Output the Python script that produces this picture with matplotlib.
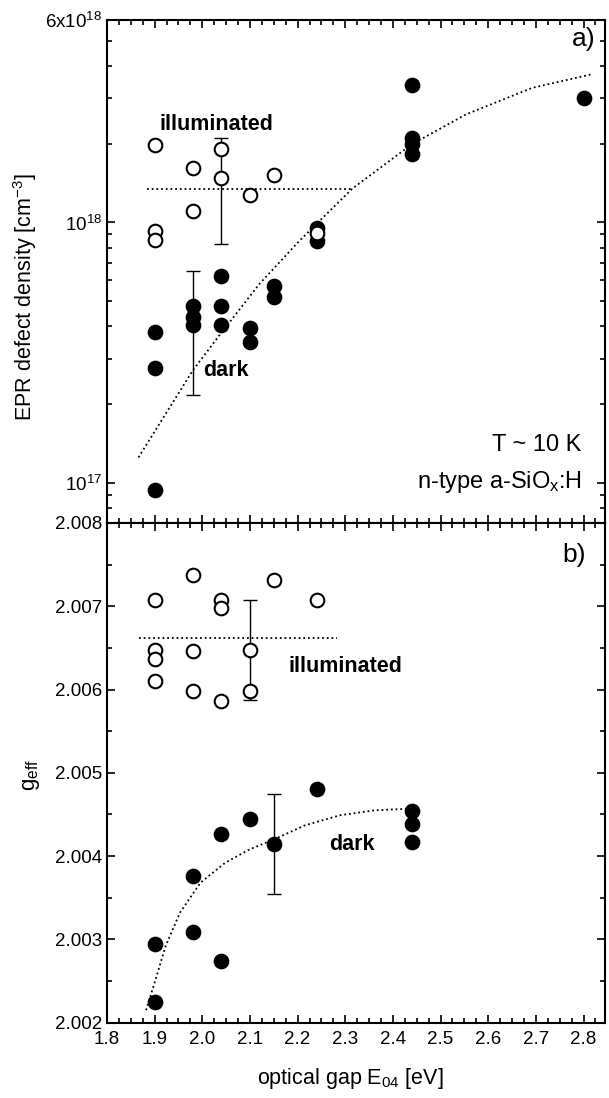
import numpy as np
import matplotlib
matplotlib.use('Agg')
import matplotlib.pyplot as plt
from matplotlib.ticker import LogLocator, NullFormatter, MultipleLocator

plt.rcParams['font.family'] = ['Liberation Sans', 'DejaVu Sans']
plt.rcParams['mathtext.fontset'] = 'custom'
plt.rcParams['mathtext.rm'] = 'Liberation Sans'
plt.rcParams['mathtext.it'] = 'Liberation Sans:italic'
plt.rcParams['mathtext.bf'] = 'Liberation Sans:bold'

# ---- a) EPR defect density vs optical gap
illumX = [1.90, 1.90, 1.90, 1.98, 1.98, 2.04, 2.04, 2.10, 2.15, 2.24]
illumN = [1.99e18, 0.93e18, 0.86e18, 1.62e18, 1.11e18, 1.91e18, 1.48e18,
          1.27e18, 1.52e18, 0.91e18]
darkX = [1.90, 1.90, 1.90, 1.98, 1.98, 1.98, 2.04, 2.04, 2.04, 2.10, 2.10,
         2.15, 2.15, 2.24, 2.24, 2.44, 2.44, 2.44, 2.44, 2.80]
darkN = [3.79e17, 2.76e17, 0.94e17, 4.76e17, 4.32e17, 4.02e17, 6.21e17,
         4.76e17, 4.05e17, 3.94e17, 3.47e17, 5.69e17, 5.16e17, 0.955e18,
         0.85e18, 3.39e18, 2.12e18, 2.0e18, 1.84e18, 3.01e18]

illumMeanN = 1.34e18
illumMeanSpan = [1.883, 2.315]
illumErrN = [2.04, 1.48e18, 0.83e18, 2.12e18]     # x, centre, low, high
darkErrN = [1.98, 4.32e17, 2.18e17, 6.49e17]

fitXa = [1.866, 1.98, 2.04, 2.12, 2.204, 2.315, 2.44, 2.553, 2.692, 2.817]
fitNa = [1.25e17, 2.70e17, 3.77e17, 5.81e17, 8.51e17, 1.35e18, 2.0e18,
         2.60e18, 3.29e18, 3.71e18]

# ---- b) effective g value vs optical gap
illumG_X = [1.90, 1.90, 1.90, 1.90, 1.98, 1.98, 1.98, 2.04, 2.04, 2.04,
            2.10, 2.10, 2.15, 2.24]
illumG = [2.00707, 2.00647, 2.00637, 2.00610, 2.00738, 2.00646, 2.00598,
          2.00708, 2.00698, 2.00586, 2.00648, 2.00598, 2.00731, 2.00707]
darkG_X = [1.90, 1.90, 1.98, 1.98, 2.04, 2.04, 2.10, 2.15, 2.24,
           2.44, 2.44, 2.44]
darkG = [2.00295, 2.00225, 2.00376, 2.00309, 2.00427, 2.00274, 2.00444,
         2.00414, 2.00481, 2.00454, 2.00438, 2.00417]

illumMeanG = 2.00662
illumMeanGSpan = [1.867, 2.282]
illumErrG = [2.10, 2.00648, 2.00588, 2.00708]
darkErrG = [2.15, 2.00414, 2.00355, 2.00474]

fitXb = [1.882, 1.9015, 1.923, 1.953, 1.996, 2.048, 2.099, 2.150, 2.2156,
         2.2886, 2.3617, 2.4384]
fitGb = [2.00215, 2.00251, 2.00292, 2.00332, 2.00368, 2.00392, 2.00408,
         2.00420, 2.00437, 2.00449, 2.00455, 2.00457]

xTicks = [1.8, 1.9, 2.0, 2.1, 2.2, 2.3, 2.4, 2.5, 2.6, 2.7, 2.8]
xTickLabels = ['1.8', '1.9', '2.0', '2.1', '2.2', '2.3', '2.4', '2.5', '2.6', '2.7', '2.8']
gTicks = [2.002, 2.003, 2.004, 2.005, 2.006, 2.007, 2.008]
gTickLabels = ['2.002', '2.003', '2.004', '2.005', '2.006', '2.007', '2.008']
nTicks = [1e17, 1e18, 6e18]
nTickLabels = ['10$^{17}$', '10$^{18}$', '6x10$^{18}$']

MS = 9.8
MEW = 1.5
DOTS = (0, (1, 1.6))


def styleAxes(ax):
    for sp in ax.spines.values():
        sp.set_linewidth(1.5)
    ax.tick_params(which='both', direction='in', top=True, right=True,
                   labelsize=13.5, width=1.2)
    ax.tick_params(which='major', length=6)
    ax.tick_params(which='minor', length=3.5)
    ax.set_xlim(1.8, 2.845)
    ax.set_xticks(xTicks)
    ax.xaxis.set_minor_locator(MultipleLocator(0.025))


def drawErr(ax, err):
    x, c, lo, hi = err
    ax.errorbar([x], [c], yerr=[[c - lo], [hi - c]], fmt='none', ecolor='black',
                elinewidth=1.0, capsize=5, capthick=1.0, zorder=2)


fig = plt.figure(figsize=(6.09, 10.98), dpi=100)
axA = fig.add_axes([0.1757, 0.5237, 0.8177, 0.4581])
axB = fig.add_axes([0.1757, 0.0686, 0.8177, 0.4551])

# panel a
axA.set_yscale('log')
styleAxes(axA)
axA.set_ylim(7.0e16, 6e18)
axA.yaxis.set_major_locator(plt.FixedLocator(nTicks))
axA.set_yticklabels(nTickLabels)
axA.yaxis.set_minor_locator(LogLocator(base=10, subs=np.arange(2, 10)))
axA.yaxis.set_minor_formatter(NullFormatter())
axA.set_xticklabels([])

axA.plot(fitXa, fitNa, linestyle=DOTS, color='black', lw=1.3, zorder=1)
axA.plot(illumMeanSpan, [illumMeanN, illumMeanN], linestyle=DOTS,
         color='black', lw=1.3, zorder=1)
drawErr(axA, illumErrN)
drawErr(axA, darkErrN)
axA.plot(darkX, darkN, 'o', ms=MS, mfc='black', mec='black', mew=MEW, zorder=3)
axA.plot(illumX, illumN, 'o', ms=MS, mfc='white', mec='black', mew=MEW, zorder=4)

axA.text(2.029, 2.39e18, 'illuminated', fontsize=15.5, fontweight='bold',
         ha='center', va='center')
axA.text(2.05, 2.70e17, 'dark', fontsize=15.5, fontweight='bold',
         ha='center', va='center')
axA.text(2.80, 5.05e18, 'a)', fontsize=19, ha='center', va='center')
axA.text(2.796, 1.39e17, 'T ~ 10 K', fontsize=17, ha='right', va='center')
axA.text(2.796, 1.01e17, 'n-type a-SiO$_{\\rm x}$:H', fontsize=17, ha='right', va='center')
axA.set_ylabel('EPR defect density [cm$^{-3}$]', fontsize=15.5)
axA.yaxis.set_label_coords(-0.137, 0.45)

# panel b
styleAxes(axB)
axB.set_ylim(2.002, 2.008)
axB.set_yticks(gTicks)
axB.set_yticklabels(gTickLabels)
axB.yaxis.set_minor_locator(MultipleLocator(0.0005))
axB.set_xticklabels(xTickLabels)
axB.tick_params(axis='x', pad=6)

axB.plot(fitXb, fitGb, linestyle=DOTS, color='black', lw=1.3, zorder=1)
axB.plot(illumMeanGSpan, [illumMeanG, illumMeanG], linestyle=DOTS,
         color='black', lw=1.3, zorder=1)
drawErr(axB, illumErrG)
drawErr(axB, darkErrG)
axB.plot(darkG_X, darkG, 'o', ms=MS, mfc='black', mec='black', mew=MEW, zorder=3)
axB.plot(illumG_X, illumG, 'o', ms=MS, mfc='white', mec='black', mew=MEW, zorder=4)

axB.text(2.301, 2.00628, 'illuminated', fontsize=15.5, fontweight='bold',
         ha='center', va='center')
axB.text(2.313, 2.00414, 'dark', fontsize=15.5, fontweight='bold',
         ha='center', va='center')
axB.text(2.78, 2.00762, 'b)', fontsize=19, ha='center', va='center')
axB.set_ylabel('g$_{\\rm eff}$', fontsize=16)
axB.yaxis.set_label_coords(-0.13, 0.495)
axB.set_xlabel('optical gap E$_{04}$ [eV]', fontsize=15.5)
axB.xaxis.set_label_coords(0.488, -0.087)

fig.savefig('out.png', dpi=100)
